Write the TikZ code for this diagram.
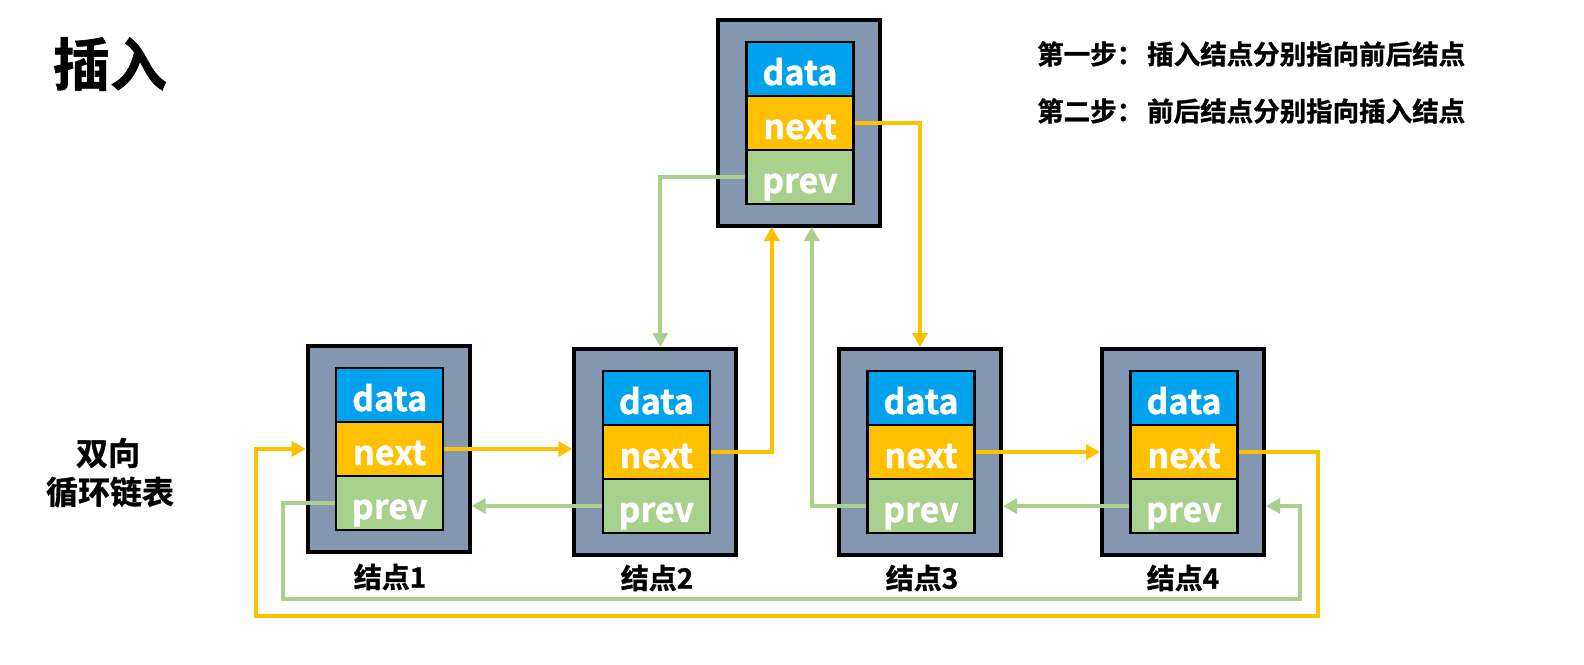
\documentclass[tikz,border=0pt]{standalone}
\usepackage{fontspec}
\setmainfont{Noto Sans CJK SC}[BoldFont=* Bold, BoldFeatures={FakeBold=1.2}]
\usetikzlibrary{arrows.meta}
\definecolor{cdata}{RGB}{0,162,237}
\definecolor{cnext}{RGB}{255,192,0}
\definecolor{cprev}{RGB}{169,209,142}
\definecolor{couter}{RGB}{132,151,176}
\tikzset{
  outerbox/.style={draw=black, line width=4pt, fill=couter, minimum width=162pt, minimum height=206pt, inner sep=0pt},
  cell/.style={draw=black, line width=2.5pt, minimum width=107pt, minimum height=54pt, inner sep=0pt, text height=32pt, text depth=0pt, text=white, font=\fontsize{34}{34}\selectfont\bfseries},
  oarr/.style={draw=cnext, line width=4pt, -{Triangle[length=14pt,width=15pt]}},
  garr/.style={draw=cprev, line width=4pt, -{Triangle[length=14pt,width=15pt]}},
  lbl/.style={font=\fontsize{28}{28}\selectfont\bfseries, inner sep=0pt},
  side/.style={font=\fontsize{32}{32}\selectfont\bfseries, inner sep=0pt},
  stepline/.style={font=\fontsize{26.5}{26.5}\selectfont\bfseries, inner sep=0pt, anchor=west},
}
\newcommand\llnode[3]{%
  \node[outerbox] (#1) at (#2, #3+104) {};
  \node[cell, fill=cdata] (#1d) at (#2+1, #3+23+27) {data};
  \node[cell, fill=cnext] (#1n) at (#2+1, #3+77+27) {next};
  \node[cell, fill=cprev] (#1p) at (#2+1, #3+131+27) {prev};
}
\begin{document}
\begin{tikzpicture}[x=1pt,y=-1pt]
\path[fill=white] (0,0) rectangle (1584,664);
\useasboundingbox (0,0) rectangle (1584,664);

\node[font=\fontsize{57}{57}\selectfont\bfseries, inner sep=0pt] (title) at (110,64) {插入};
\node[stepline] (step1) at (1037,54) {第一步：\hspace{4pt}插入结点分别指向前后结点};
\node[stepline] (step2) at (1037,111) {第二步：\hspace{4pt}前后结点分别指向插入结点};
\node[side] (side1) at (108,453) {双向};
\node[side] (side2) at (110,492) {循环链表};

\llnode{A}{388.7}{345}
\llnode{B}{655.3}{348}
\llnode{C}{920}{348}
\llnode{D}{1183}{348}
\llnode{T}{799}{19}

\node[lbl] (la) at (390,577) {结点1};
\node[lbl] (lb) at (657,578) {结点2};
\node[lbl] (lc) at (922,578) {结点3};
\node[lbl] (ld) at (1183,578) {结点4};

\coordinate (uo) at (771.7,227);
\coordinate (ug) at (811.7,227);
\coordinate (oR) at (1318,616);
\coordinate (oL) at (256,616);
\coordinate (gL) at (282.7,599);
\coordinate (gR) at (1300,599);

% horizontal links
\draw[oarr] (An.east) -- (B.west |- An.east);
\draw[garr] (Bp.west) -- (A.east |- Bp.west);
\draw[oarr] (Cn.east) -- (D.west |- Cn.east);
\draw[garr] (Dp.west) -- (C.east |- Dp.west);
% insertion links
\draw[oarr] (Bn.east) -| (uo);
\draw[garr] (Cp.west) -| (ug);
\draw[oarr] (Tn.east) -| (C.north);
\draw[garr] (Tp.west) -| ([xshift=5pt]B.north);
% circular links
\draw[oarr] (Dn.east) -| (oR) -- (oL) |- (A.west |- An.east);
\draw[garr] (Ap.west) -| (gL) -- (gR) |- (D.east |- Dp.west);
\end{tikzpicture}
\end{document}
